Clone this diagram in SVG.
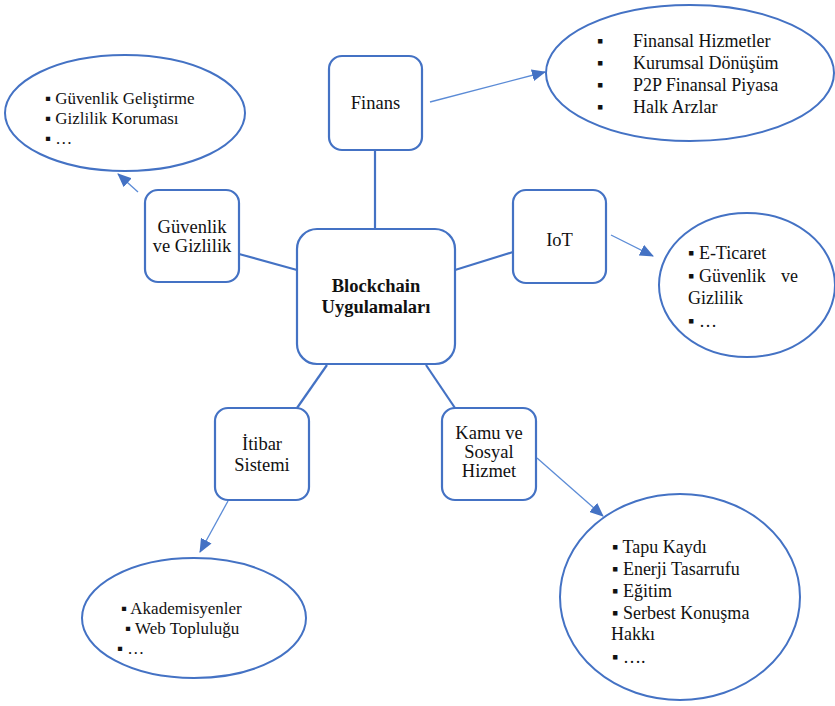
<svg xmlns="http://www.w3.org/2000/svg" width="835" height="706" viewBox="0 0 835 706">
<style>
.box{fill:#fff;stroke:#4472C4;stroke-width:2.2}
.ell{fill:#fff;stroke:#4472C4;stroke-width:2}
.t{font-family:"Liberation Serif","Times New Roman",serif;fill:#111;font-size:18px}
.s{font-size:17px}
.bt{font-family:"Liberation Serif","Times New Roman",serif;fill:#111;font-size:18.5px;text-anchor:middle}
.ln{stroke:#4472C4;stroke-width:2.2;fill:none}
.ar{stroke:#5B8BD6;stroke-width:1.3;fill:none;marker-end:url(#ah)}
</style>
<defs>
<marker id="ah" markerUnits="userSpaceOnUse" markerWidth="14" markerHeight="12" refX="13" refY="6" orient="auto">
<path d="M0,0 L14,6 L0,12 Z" fill="#4472C4"/>
</marker>
</defs>
<g id="connectors">
<line class="ln" x1="375" y1="150" x2="375" y2="229"/>
<line class="ln" x1="239" y1="254" x2="297" y2="270"/>
<line class="ln" x1="455" y1="270" x2="513" y2="252"/>
<line class="ln" x1="327" y1="365" x2="297" y2="408"/>
<line class="ln" x1="426" y1="365" x2="455" y2="408"/>
<line class="ar" x1="430" y1="102" x2="545" y2="72"/>
<line class="ar" x1="611" y1="235" x2="653" y2="256"/>
<line class="ar" x1="138" y1="192" x2="118" y2="174"/>
<line class="ar" x1="537" y1="458" x2="603" y2="516"/>
<line class="ar" x1="228" y1="501" x2="200" y2="552"/>
</g>
<g id="center">
<rect class="box" x="297" y="229" width="158" height="135" rx="20"/>
<text class="bt" x="376" y="292" font-weight="bold" font-size="20px">Blockchain</text>
<text class="bt" x="376" y="313" font-weight="bold" font-size="20px">Uygulamaları</text>
</g>
<g id="finans">
<rect class="box" x="329" y="56" width="93" height="94" rx="13"/>
<text class="bt" x="375.5" y="109" font-size="20px">Finans</text>
</g>
<g id="iot">
<rect class="box" x="513" y="190" width="93" height="93" rx="13"/>
<text class="bt" x="559.5" y="246" font-size="20px">IoT</text>
</g>
<g id="guvenlik">
<rect class="box" x="145" y="190" width="94" height="92" rx="13"/>
<text class="bt" x="192" y="233">Güvenlik</text>
<text class="bt" x="192" y="252">ve Gizlilik</text>
</g>
<g id="itibar">
<rect class="box" x="215" y="408" width="94" height="92" rx="13"/>
<text class="bt" x="262" y="450" font-size="20px">İtibar</text>
<text class="bt" x="262" y="471" font-size="20px">Sistemi</text>
</g>
<g id="kamu">
<rect class="box" x="442" y="408" width="94" height="92" rx="13"/>
<text class="bt" x="489" y="439">Kamu ve</text>
<text class="bt" x="489" y="458">Sosyal</text>
<text class="bt" x="489" y="477">Hizmet</text>
</g>
<g id="finans-list">
<ellipse class="ell" cx="690" cy="73" rx="144" ry="68"/>
<text class="t" x="597" y="47">▪</text><text class="t" x="633" y="47">Finansal Hizmetler</text>
<text class="t" x="597" y="69">▪</text><text class="t" x="633" y="69">Kurumsal Dönüşüm</text>
<text class="t" x="597" y="91">▪</text><text class="t" x="633" y="91">P2P Finansal Piyasa</text>
<text class="t" x="597" y="113">▪</text><text class="t" x="633" y="113">Halk Arzlar</text>
</g>
<g id="guvenlik-list">
<ellipse class="ell" cx="125" cy="113" rx="120" ry="58"/>
<text class="t s" x="45" y="104">▪ Güvenlik Geliştirme</text>
<text class="t s" x="45" y="124">▪ Gizlilik Koruması</text>
<text class="t s" x="45" y="144">▪ …</text>
</g>
<g id="iot-list">
<ellipse class="ell" cx="747" cy="285" rx="88" ry="72"/>
<text class="t" x="688" y="259">▪ E-Ticaret</text>
<text class="t" x="688" y="282">▪ Güvenlik <tspan x="781">ve</tspan></text>
<text class="t" x="688" y="304">Gizlilik</text>
<text class="t" x="688" y="327">▪ …</text>
</g>
<g id="itibar-list">
<ellipse class="ell" cx="194" cy="618" rx="112" ry="60"/>
<text class="t s" x="121" y="614">▪ Akademisyenler</text>
<text class="t s" x="125" y="634">▪ Web Topluluğu</text>
<text class="t s" x="117" y="654">▪ …</text>
</g>
<g id="kamu-list">
<ellipse class="ell" cx="680" cy="597" rx="120" ry="103"/>
<text class="t" x="612" y="553">▪ Tapu Kaydı</text>
<text class="t" x="612" y="575">▪ Enerji Tasarrufu</text>
<text class="t" x="612" y="597">▪ Eğitim</text>
<text class="t" x="612" y="619">▪ Serbest Konuşma</text>
<text class="t" x="611" y="640">Hakkı</text>
<text class="t" x="612" y="663">▪ ….</text>
</g>
</svg>
